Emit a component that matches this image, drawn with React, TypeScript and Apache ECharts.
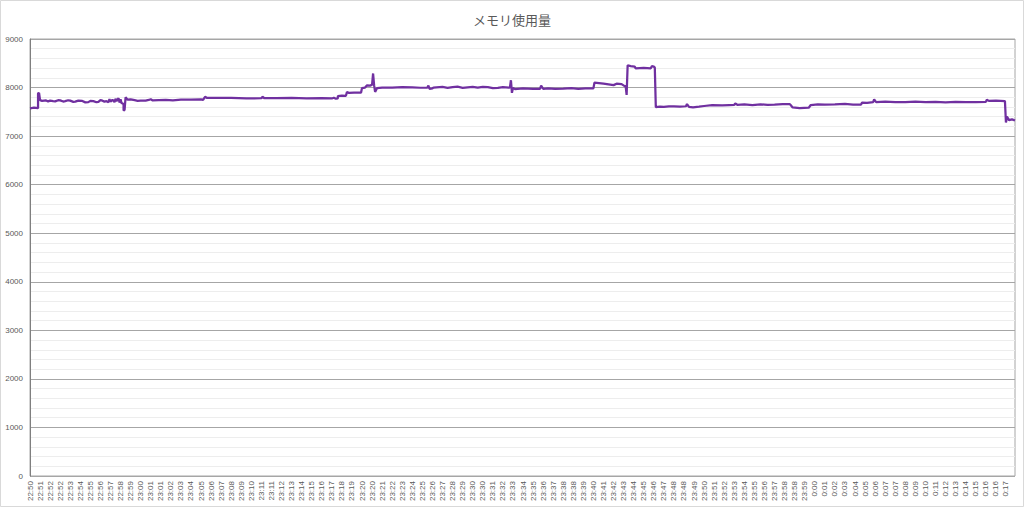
import React, { useEffect, useRef } from "react";
import * as echarts from "echarts";

const chartTitle = "メモリ使用量";

const tickLabels: string[] = [
  "22:50", "22:51", "22:52", "22:52", "22:53", "22:54", "22:55", "22:56", "22:57", "22:58", "22:59",
  "23:00", "23:01", "23:01", "23:02", "23:03", "23:04", "23:05", "23:06", "23:07", "23:08", "23:09",
  "23:10", "23:11", "23:11", "23:12", "23:13", "23:14", "23:15", "23:16", "23:17", "23:18", "23:19",
  "23:20", "23:20", "23:21", "23:22", "23:23", "23:24", "23:25", "23:26", "23:27", "23:28", "23:29",
  "23:30", "23:30", "23:31", "23:32", "23:33", "23:34", "23:35", "23:36", "23:37", "23:38", "23:38", "23:39",
  "23:40", "23:41", "23:42", "23:43", "23:44", "23:45", "23:46", "23:47", "23:48", "23:48", "23:49",
  "23:50", "23:51", "23:52", "23:53", "23:54", "23:55", "23:56", "23:57", "23:58", "23:58", "23:59",
  "0:00", "0:01", "0:02", "0:03", "0:04", "0:05", "0:06", "0:07", "0:07", "0:08", "0:09",
  "0:10", "0:11", "0:12", "0:13", "0:14", "0:15", "0:16", "0:16", "0:17",
];

// samples per tick label and last sample index
const samplesPerLabel = 10;
const lastSample = 979;

// sample index of each recorded point
const sampleIndex: number[] = [
  0, 4, 8, 8, 9, 10, 12, 16, 18, 20, 23, 25, 28, 30, 33, 35, 38, 40, 43, 45, 48, 52, 55, 58, 60, 63, 66, 68, 70, 72, 74, 76,
  78, 79, 80, 82, 84, 85, 86, 88, 89, 90, 91, 92, 93, 93, 94, 95, 97, 100, 104, 107, 110,
  115, 118, 120, 122, 128, 135, 142, 150, 160, 170, 172, 174, 176, 185, 200, 215, 230, 231, 233, 245, 260, 275, 290, 300, 302, 304, 306,
  306, 310, 314, 315, 317, 322, 329, 330, 333, 335, 338, 340, 341, 342, 343, 345, 350,
  360, 370, 380, 388, 395, 396, 397, 400, 401, 410, 415, 420, 425, 430, 435, 440, 445, 450, 455, 460, 465, 470, 476,
  477, 478, 479, 480, 482, 490, 500, 507, 508, 510, 515, 522, 530, 538, 545, 552, 560,
  561, 570, 580, 583, 588, 591, 592, 593, 594, 597, 601, 602, 610, 617, 618, 620, 621, 622,
  626, 630, 635, 640, 646, 652, 653, 655, 659, 665, 670, 678, 688, 695, 700, 701, 703, 710, 718, 726, 733, 740, 748, 755, 756,
  758, 765, 774, 776, 783, 790, 800, 810, 818, 826, 827, 832, 838, 839, 841, 850, 860, 870, 880, 890, 900, 910, 920, 930, 940, 950, 951, 953,
  960, 969, 970, 971, 973, 976, 979,
];

// memory usage (MB) at each recorded point
const memoryMB: number[] = [
  7570, 7585, 7575, 7880, 7890, 7740, 7725, 7735, 7715, 7730, 7720, 7715, 7740, 7735, 7712, 7720, 7738, 7730, 7705, 7710, 7730, 7725, 7695, 7700, 7725, 7720, 7698, 7705, 7740, 7730, 7710, 7720,
  7700, 7760, 7710, 7750, 7700, 7770, 7720, 7780, 7690, 7760, 7680, 7670, 7660, 7530, 7540, 7800, 7750, 7758, 7740, 7725, 7730,
  7730, 7745, 7760, 7735, 7740, 7745, 7738, 7750, 7752, 7755, 7745, 7810, 7785, 7790, 7785, 7778, 7780, 7810, 7780, 7783, 7785, 7776, 7780, 7775, 7790, 7770, 7778,
  7825, 7835, 7830, 7905, 7890, 7898, 7895, 7990, 8000, 8045, 8040, 8060, 8290, 8050, 7910, 7990, 8000,
  7998, 8008, 8005, 7996, 8000, 8040, 7975, 7985, 8000, 8012, 7995, 8010, 8018, 7995, 8006, 8015, 8000, 8014, 8010, 7990, 7995, 8010, 8000,
  8005, 8150, 7890, 7990, 7970, 7982, 7975, 7975, 8040, 7975, 7985, 7972, 7980, 7990, 7975, 7982, 7985,
  8100, 8080, 8050, 8080, 8070, 8030, 8030, 7850, 8460, 8440, 8430, 8395, 8405, 8395, 8440, 8430, 8410, 7595,
  7605, 7600, 7612, 7610, 7605, 7615, 7660, 7600, 7590, 7605, 7620, 7640, 7632, 7640, 7645, 7670, 7645, 7652, 7640, 7655, 7645, 7650, 7658, 7660, 7640,
  7590, 7575, 7585, 7640, 7652, 7650, 7655, 7662, 7650, 7650, 7690, 7685, 7700, 7755, 7700, 7708, 7698, 7700, 7710, 7700, 7705, 7695, 7706, 7700, 7698, 7705, 7750, 7725,
  7732, 7720, 7280, 7400, 7330, 7345, 7320,
];

const yTicks: number[] = [0, 1000, 2000, 3000, 4000, 5000, 6000, 7000, 8000, 9000];

export default function App() {
  const ref = useRef<HTMLDivElement>(null);

  useEffect(() => {
    document.body.style.margin = "0";
    if (!ref.current) return;
    const chart = echarts.init(ref.current, undefined, { renderer: "svg" });
    const seriesData = sampleIndex.map((s, i) => [s, memoryMB[i]]);
    chart.setOption({
      animation: false,
      backgroundColor: "#ffffff",
      title: {
        text: chartTitle,
        left: "center",
        top: 8,
        textStyle: {
          fontFamily: "Noto Sans CJK JP",
          fontSize: 13,
          fontWeight: "normal",
          color: "#595959",
        },
      },
      graphic: [
        {
          type: "rect",
          shape: { x: 0.5, y: 0.5, width: 1023, height: 506 },
          style: { fill: "none", stroke: "#d9d9d9", lineWidth: 1 },
          silent: true,
        },
      ],
      grid: {
        left: 30,
        right: 9,
        top: 39,
        bottom: 31,
        show: true,
        borderColor: "#a6a6a6",
        borderWidth: 1,
      },
      xAxis: {
        type: "value",
        min: 0,
        max: lastSample,
        interval: samplesPerLabel,
        axisLine: { show: false },
        axisTick: { show: false },
        splitLine: { show: false },
        axisLabel: {
          rotate: 90,
          margin: 5,
          fontSize: 8,
          color: "#595959",
          fontFamily: "Liberation Sans",
          showMaxLabel: false,
          formatter: (v: number) => {
            if (v % samplesPerLabel !== 0) return "";
            return tickLabels[v / samplesPerLabel] || "";
          },
        },
      },
      yAxis: {
        type: "value",
        min: yTicks[0],
        max: yTicks[yTicks.length - 1],
        interval: yTicks[1] - yTicks[0],
        axisLine: { show: true, lineStyle: { color: "#7f7f7f", width: 1 } },
        axisTick: { show: false },
        axisLabel: {
          fontSize: 8,
          color: "#595959",
          fontFamily: "Liberation Sans",
          margin: 7,
          formatter: (v: number) => String(v),
        },
        splitLine: { show: true, lineStyle: { color: "#a6a6a6", width: 1 } },
        minorTick: { show: false, splitNumber: 5 },
        minorSplitLine: { show: true, lineStyle: { color: "#ededed", width: 1 } },
      },
      series: [
        {
          type: "line",
          data: seriesData,
          showSymbol: false,
          symbol: "none",
          lineStyle: { color: "#7030a0", width: 2.25 },
          itemStyle: { color: "#7030a0" },
          z: 5,
        },
      ],
    });
    return () => {
      chart.dispose();
    };
  }, []);

  return <div ref={ref} style={{ width: 1024, height: 507 }} />;
}
